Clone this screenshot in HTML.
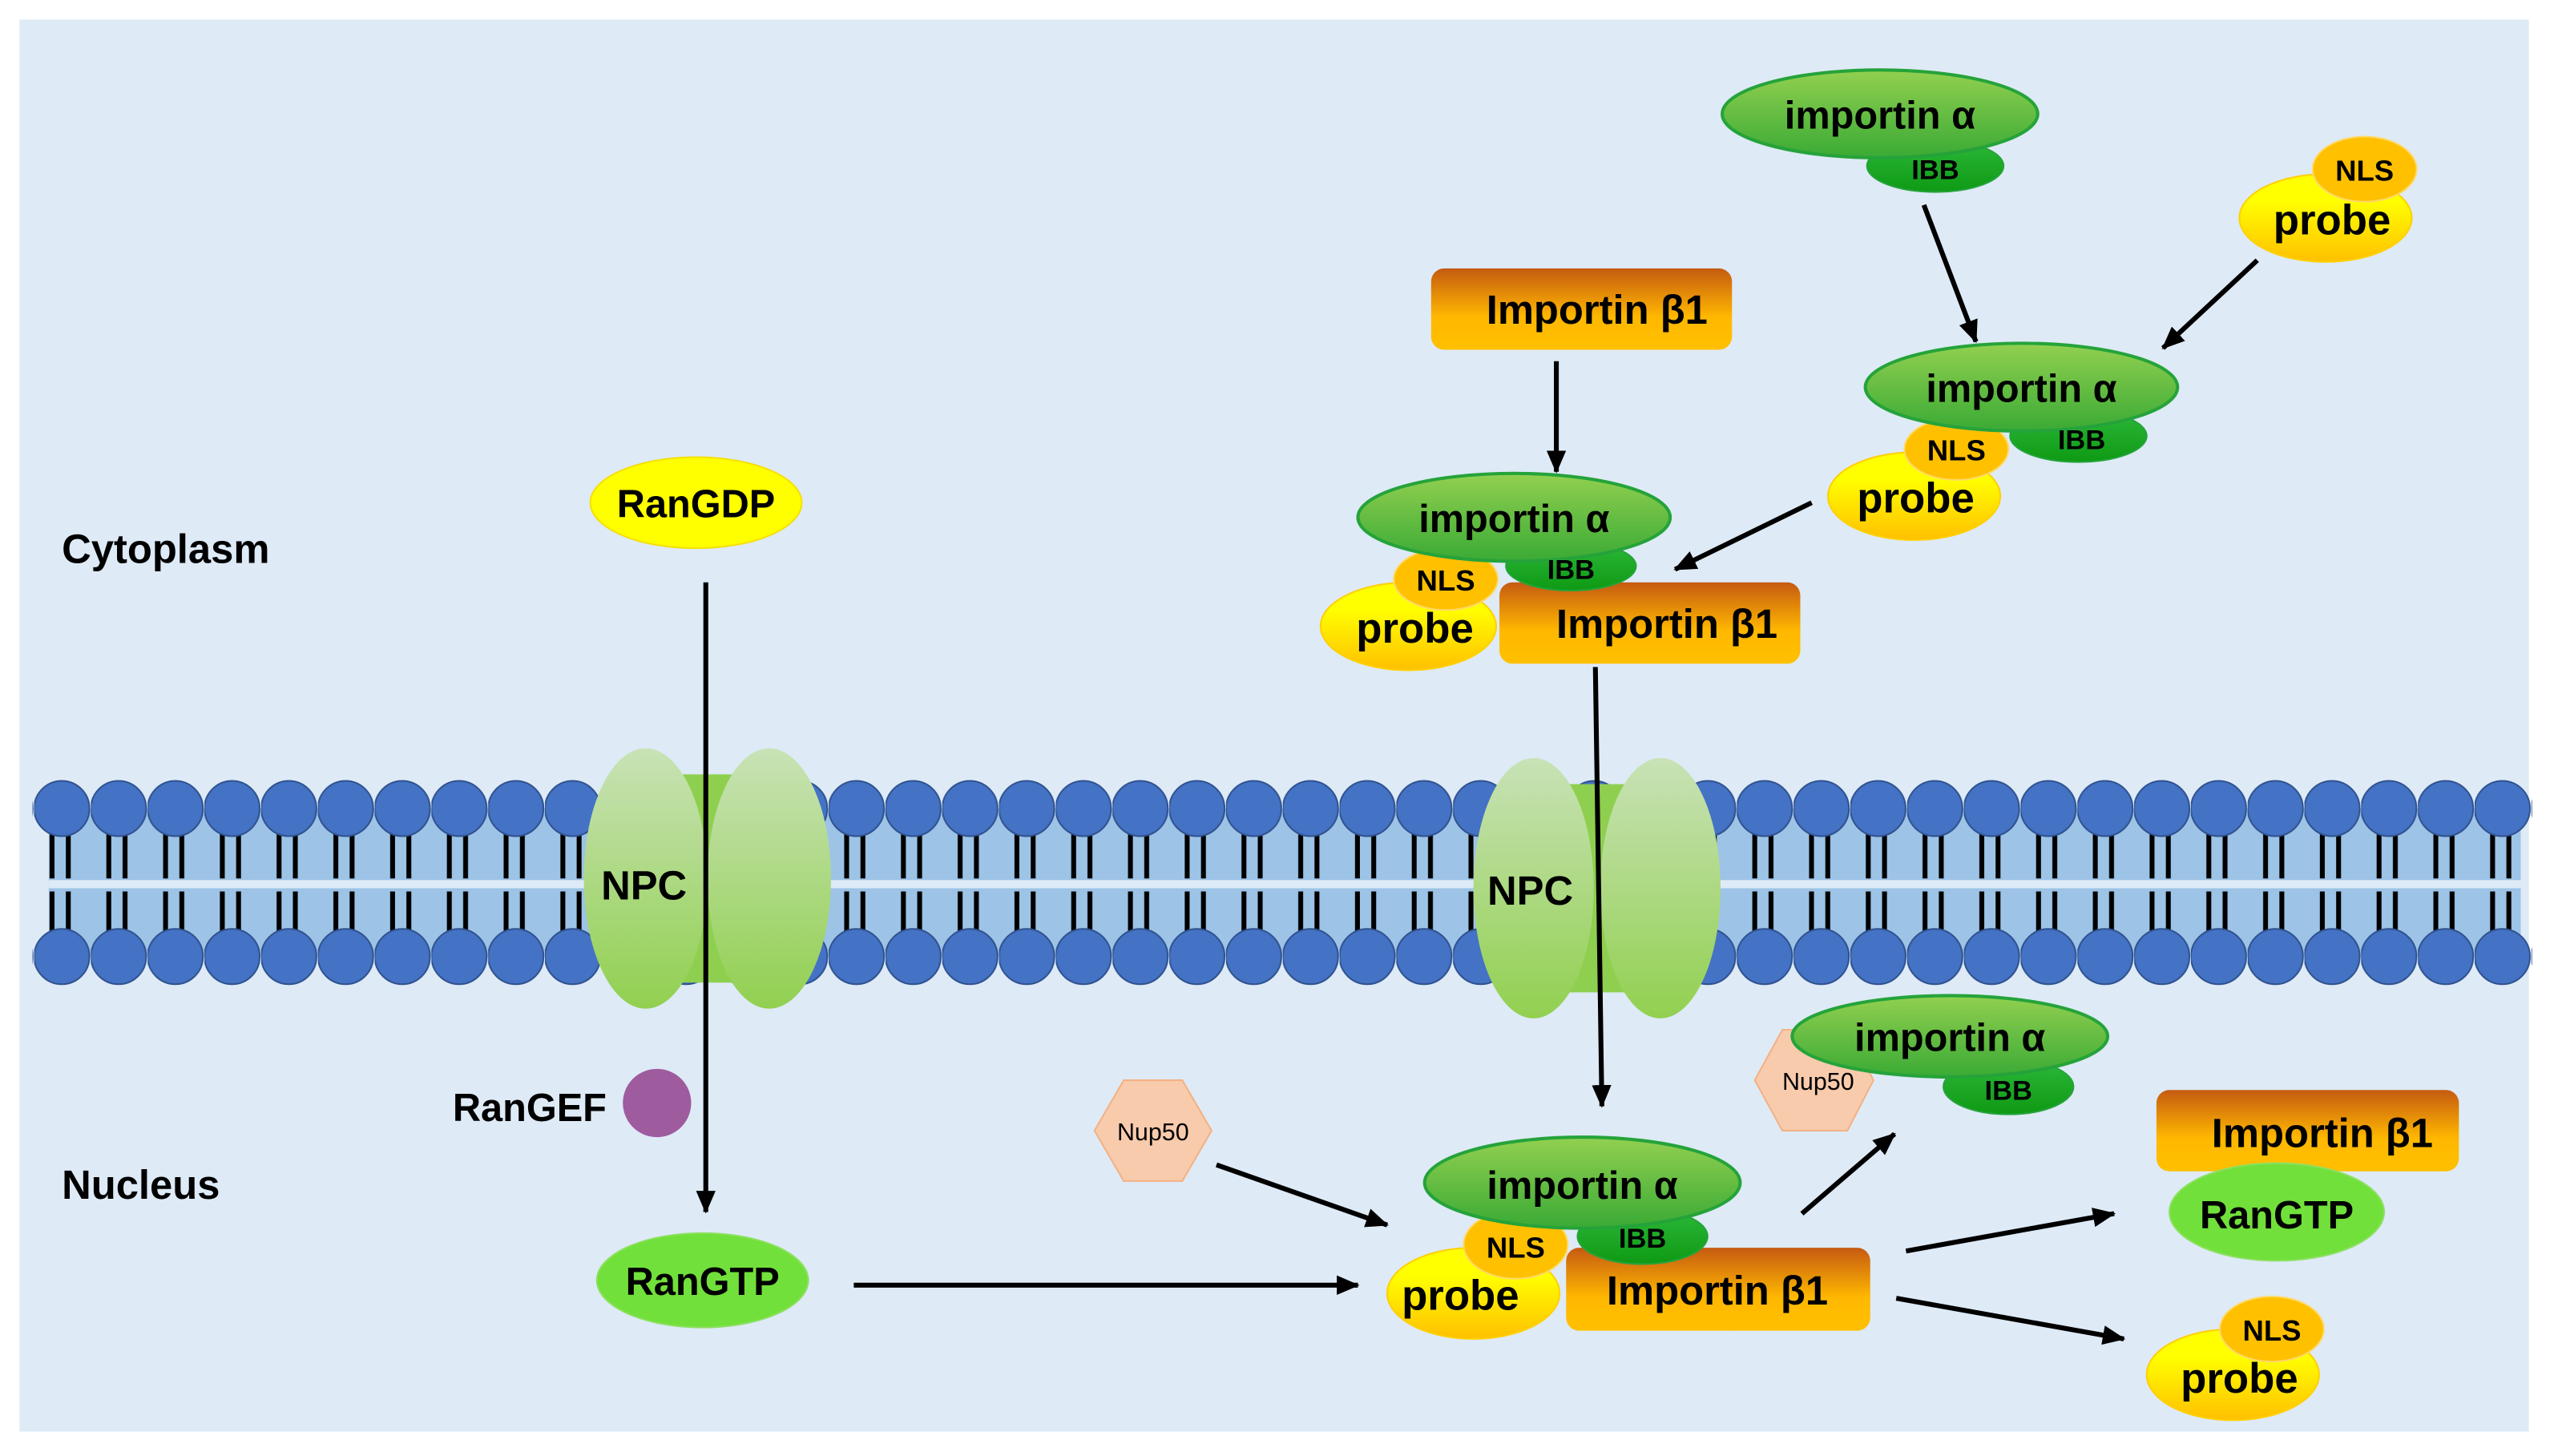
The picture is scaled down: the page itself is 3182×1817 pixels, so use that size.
<!DOCTYPE html>
<html><head><meta charset="utf-8"><style>
html,body{margin:0;padding:0;background:#fff;width:3182px;height:1817px;overflow:hidden}
svg{display:block}
text{font-family:"Liberation Sans",sans-serif;fill:#000}
</style></head><body>
<svg width="3182" height="1817" viewBox="0 0 1568 895" preserveAspectRatio="none" xmlns="http://www.w3.org/2000/svg">
<defs>
<linearGradient id="ga" x1="0" y1="0" x2="0" y2="1"><stop offset="0" stop-color="#92d050"/><stop offset="1" stop-color="#3aaa35"/></linearGradient>
<linearGradient id="gi" x1="0" y1="0" x2="0" y2="1"><stop offset="0" stop-color="#2db83a"/><stop offset="1" stop-color="#0e9a14"/></linearGradient>
<linearGradient id="gp" x1="0" y1="0" x2="0" y2="1"><stop offset="0.3" stop-color="#ffff00"/><stop offset="1" stop-color="#ffc000"/></linearGradient>
<linearGradient id="gb" x1="0" y1="0" x2="0" y2="1"><stop offset="0" stop-color="#c55a11"/><stop offset="0.6" stop-color="#ffb800"/><stop offset="1" stop-color="#ffc000"/></linearGradient>
<linearGradient id="gn" x1="0" y1="0" x2="0" y2="1"><stop offset="0" stop-color="#c8e2b6"/><stop offset="1" stop-color="#92d050"/></linearGradient>
<marker id="ar" markerWidth="14" markerHeight="14" refX="13" refY="7" orient="auto" markerUnits="userSpaceOnUse" viewBox="0 0 14 14"><path d="M0,1 L14,7 L0,13 z" fill="#000"/></marker>
<pattern id="heads" x="21" y="0" width="34.9" height="895" patternUnits="userSpaceOnUse">
<line x1="11" y1="512" x2="11" y2="540" stroke="#000" stroke-width="3"/><line x1="21" y1="512" x2="21" y2="540" stroke="#000" stroke-width="3"/>
<line x1="11" y1="548" x2="11" y2="574" stroke="#000" stroke-width="3"/><line x1="21" y1="548" x2="21" y2="574" stroke="#000" stroke-width="3"/>
<ellipse cx="17" cy="497" rx="17" ry="17" fill="#4472c4" stroke="#2f528f" stroke-width="1"/>
<ellipse cx="17" cy="588" rx="17" ry="17" fill="#4472c4" stroke="#2f528f" stroke-width="1"/>
</pattern>
</defs>
<rect x="12" y="12" width="1543" height="868" fill="#deeaf6"/>
<rect x="30" y="497" width="1520" height="91" fill="#9dc3e6"/>
<rect x="30" y="541" width="1520" height="5" fill="#deeaf6"/>
<rect x="20" y="478" width="1537" height="130" fill="url(#heads)"/>
<!-- NPCs -->
<rect x="397" y="476" width="76" height="128" fill="#8fcf4f"/>
<ellipse cx="397" cy="540" rx="38" ry="80" fill="url(#gn)"/>
<ellipse cx="473" cy="540" rx="38" ry="80" fill="url(#gn)"/>
<text x="396" y="553" font-size="25" font-weight="bold" text-anchor="middle">NPC</text>
<rect x="943" y="482" width="78" height="128" fill="#8fcf4f"/>
<ellipse cx="943" cy="546" rx="37" ry="80" fill="url(#gn)"/>
<ellipse cx="1021" cy="546" rx="37" ry="80" fill="url(#gn)"/>
<text x="941" y="556" font-size="25" font-weight="bold" text-anchor="middle">NPC</text>
<!-- labels -->
<text x="38" y="346" font-size="25" font-weight="bold">Cytoplasm</text>
<text x="38" y="737" font-size="25" font-weight="bold">Nucleus</text>
<ellipse cx="428" cy="309" rx="65" ry="28" fill="#ffff00" stroke="#f5e000"/>
<text x="428" y="318" font-size="24" font-weight="bold" text-anchor="middle">RanGDP</text>
<text x="373" y="689" font-size="24" font-weight="bold" text-anchor="end">RanGEF</text>
<circle cx="404" cy="678" r="21" fill="#9e5b9e"/>
<ellipse cx="432" cy="787" rx="65" ry="29" fill="#72e03a" stroke="#8ce060"/>
<text x="432" y="796" font-size="24" font-weight="bold" text-anchor="middle">RanGTP</text>
<!-- arrows -->
<g stroke="#000" stroke-width="3" marker-end="url(#ar)">
<line x1="434" y1="358" x2="434" y2="745"/>
<line x1="981" y1="410" x2="985" y2="680"/>
<line x1="525" y1="790" x2="835" y2="790"/>
<line x1="748" y1="716" x2="853" y2="753"/>
<line x1="1108" y1="746" x2="1165" y2="697"/>
<line x1="1172" y1="769" x2="1300" y2="746"/>
<line x1="1166" y1="798" x2="1306" y2="823"/>
<line x1="957" y1="222" x2="957" y2="290"/>
<line x1="1183" y1="126" x2="1215" y2="210"/>
<line x1="1388" y1="160" x2="1330" y2="214"/>
<line x1="1114" y1="309" x2="1030" y2="350"/>
</g>
<!-- Nup50 hexagons -->
<polygon points="673,695 691,664 727,664 745,695 727,726 691,726" fill="#f8cbad" stroke="#f4b183"/>
<text x="709" y="701" font-size="15" text-anchor="middle">Nup50</text>
<polygon points="1079,664 1096,633 1136,633 1152,664 1136,695 1096,695" fill="#f8cbad" stroke="#f4b183"/>
<text x="1118" y="670" font-size="15" text-anchor="middle">Nup50</text>
<!-- bottom complex -->
<ellipse cx="906" cy="795" rx="53" ry="28" fill="url(#gp)" stroke="#ffd000"/>
<ellipse cx="932" cy="765" rx="32" ry="21" fill="#ffc000" stroke="#ffd966"/>
<rect x="963" y="767" width="187" height="51" rx="8" fill="url(#gb)"/>
<ellipse cx="1010" cy="760" rx="40" ry="17" fill="url(#gi)" stroke="#25a33a"/>
<ellipse cx="973" cy="727" rx="97" ry="28" fill="url(#ga)" stroke="#25a33a" stroke-width="2"/>
<text x="973" y="737" font-size="24" font-weight="bold" text-anchor="middle">importin α</text>
<text x="1010" y="767" font-size="17" font-weight="bold" text-anchor="middle">IBB</text>
<text x="932" y="773" font-size="18" font-weight="bold" text-anchor="middle">NLS</text>
<text x="898" y="805" font-size="26" font-weight="bold" text-anchor="middle">probe</text>
<text x="1056" y="802" font-size="25" font-weight="bold" text-anchor="middle">Importin β1</text>
<!-- nucleus right -->
<ellipse cx="1235" cy="668" rx="40" ry="17" fill="url(#gi)" stroke="#25a33a"/>
<ellipse cx="1199" cy="637" rx="97" ry="25" fill="url(#ga)" stroke="#25a33a" stroke-width="2"/>
<text x="1199" y="646" font-size="24" font-weight="bold" text-anchor="middle">importin α</text>
<text x="1235" y="676" font-size="17" font-weight="bold" text-anchor="middle">IBB</text>
<rect x="1326" y="670" width="186" height="50" rx="8" fill="url(#gb)"/>
<ellipse cx="1400" cy="745" rx="66" ry="30" fill="#72e03a" stroke="#8ce060"/>
<text x="1428" y="705" font-size="25" font-weight="bold" text-anchor="middle">Importin β1</text>
<text x="1400" y="755" font-size="24" font-weight="bold" text-anchor="middle">RanGTP</text>
<ellipse cx="1373" cy="845" rx="53" ry="28" fill="url(#gp)" stroke="#ffd000"/>
<ellipse cx="1397" cy="817" rx="32" ry="20" fill="#ffc000" stroke="#ffd966"/>
<text x="1397" y="824" font-size="18" font-weight="bold" text-anchor="middle">NLS</text>
<text x="1377" y="856" font-size="26" font-weight="bold" text-anchor="middle">probe</text>
<!-- cytoplasm -->
<rect x="880" y="165" width="185" height="50" rx="8" fill="url(#gb)"/>
<text x="982" y="199" font-size="25" font-weight="bold" text-anchor="middle">Importin β1</text>
<ellipse cx="866" cy="385" rx="54" ry="27" fill="url(#gp)" stroke="#ffd000"/>
<ellipse cx="889" cy="356" rx="32" ry="19" fill="#ffc000" stroke="#ffd966"/>
<rect x="922" y="358" width="185" height="50" rx="8" fill="url(#gb)"/>
<ellipse cx="966" cy="348" rx="40" ry="15" fill="url(#gi)" stroke="#25a33a"/>
<ellipse cx="931" cy="318" rx="96" ry="27" fill="url(#ga)" stroke="#25a33a" stroke-width="2"/>
<text x="931" y="327" font-size="24" font-weight="bold" text-anchor="middle">importin α</text>
<text x="966" y="356" font-size="17" font-weight="bold" text-anchor="middle">IBB</text>
<text x="889" y="363" font-size="18" font-weight="bold" text-anchor="middle">NLS</text>
<text x="870" y="395" font-size="26" font-weight="bold" text-anchor="middle">probe</text>
<text x="1025" y="392" font-size="25" font-weight="bold" text-anchor="middle">Importin β1</text>
<ellipse cx="1190" cy="102" rx="42" ry="16" fill="url(#gi)" stroke="#25a33a"/>
<ellipse cx="1156" cy="70" rx="97" ry="27" fill="url(#ga)" stroke="#25a33a" stroke-width="2"/>
<text x="1156" y="79" font-size="24" font-weight="bold" text-anchor="middle">importin α</text>
<text x="1190" y="110" font-size="17" font-weight="bold" text-anchor="middle">IBB</text>
<ellipse cx="1430" cy="134" rx="53" ry="27" fill="url(#gp)" stroke="#ffd000"/>
<ellipse cx="1454" cy="104" rx="32" ry="20" fill="#ffc000" stroke="#ffd966"/>
<text x="1454" y="111" font-size="18" font-weight="bold" text-anchor="middle">NLS</text>
<text x="1434" y="144" font-size="26" font-weight="bold" text-anchor="middle">probe</text>
<ellipse cx="1177" cy="305" rx="53" ry="27" fill="url(#gp)" stroke="#ffd000"/>
<ellipse cx="1203" cy="276" rx="32" ry="19" fill="#ffc000" stroke="#ffd966"/>
<ellipse cx="1278" cy="268" rx="42" ry="16" fill="url(#gi)" stroke="#25a33a"/>
<ellipse cx="1243" cy="238" rx="96" ry="27" fill="url(#ga)" stroke="#25a33a" stroke-width="2"/>
<text x="1243" y="247" font-size="24" font-weight="bold" text-anchor="middle">importin α</text>
<text x="1280" y="276" font-size="17" font-weight="bold" text-anchor="middle">IBB</text>
<text x="1203" y="283" font-size="18" font-weight="bold" text-anchor="middle">NLS</text>
<text x="1178" y="315" font-size="26" font-weight="bold" text-anchor="middle">probe</text>
</svg>
</body></html>
